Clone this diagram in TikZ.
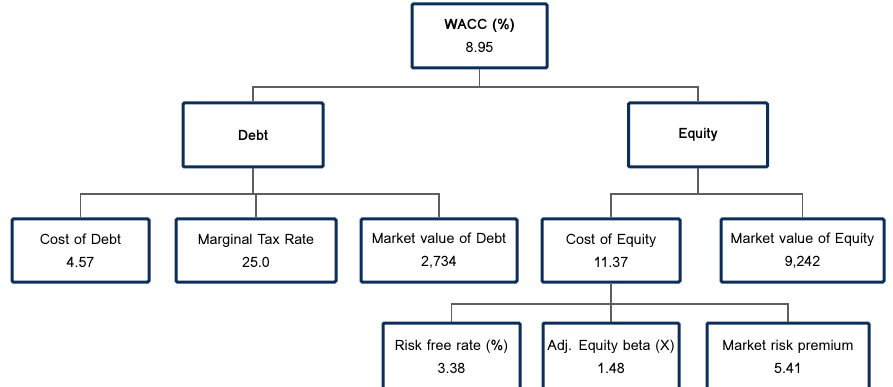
\documentclass[tikz,border=0pt]{standalone}
\usepackage{fontspec}
\setmainfont{Loma}
\usetikzlibrary{calc}
\definecolor{navy}{HTML}{0C2F5A}
\definecolor{conn}{HTML}{5E5E5E}
\begin{document}
\begin{tikzpicture}[x=1pt,y=-1pt,
  box/.style={draw=navy, line width=3pt, fill=white, rounded corners=1.2pt, inner sep=0pt, minimum height=63pt, align=center, font=\fontsize{14.3}{23}\selectfont},
  txt/.style={font=\fontsize{14.3}{23}\selectfont, align=center},
  link/.style={draw=conn, line width=1.4pt}]
\useasboundingbox (0,0) rectangle (893,387);
\clip (0,0) rectangle (893,387);
\node[box, minimum width=135pt, minimum height=64pt] (wacc) at (479.5,36) {\textbf{WACC (\%)}\\8.95};
\node[box, minimum width=140pt, minimum height=64pt] (debt) at (253,135) {\textbf{Debt}};
\node[box, minimum width=139pt, minimum height=64pt] (equity) at (698,135) {\textbf{Equity}};
\node[box, minimum width=137pt] (cod) at (80.5,250.5) {Cost of Debt\\4.57};
\node[box, minimum width=160pt] (mtr) at (256,250.5) {Marginal Tax Rate\\25.0};
\node[box, minimum width=156pt] (mvd) at (439,250.5) {Market value of Debt\\2,734};
\node[box, minimum width=138pt] (coe) at (611,250.5) {Cost of Equity\\11.37};
\node[box, minimum width=163pt] (mve) at (802.5,250.5) {Market value of Equity\\9,242};
\node[box, minimum width=137pt, minimum height=70pt] (rfr) at (451.5,358) {};
\node[box, minimum width=136pt, minimum height=70pt] (aeb) at (611,358) {};
\node[box, minimum width=162pt, minimum height=70pt] (mrp) at (788,358) {};
\node[txt] (rfrt) at (451.5,357) {Risk free rate (\%)\\3.38};
\node[txt] (aebt) at (611,357) {Adj. Equity beta (X)\\1.48};
\node[txt] (mrpt) at (788,357) {Market risk premium\\5.41};
\coordinate (j1) at (wacc.south |- 0,87);
\coordinate (j2) at (debt.south |- 0,194);
\coordinate (j3) at (equity.south |- 0,194);
\coordinate (j4) at (coe.south |- 0,304);
\draw[link] (wacc.south) -- (j1) -| (debt.north);
\draw[link] (j1) -| (equity.north);
\draw[link] (debt.south) -- (j2) -| (cod.north);
\draw[link] (j2) -- (mtr.north |- j2) -- (mtr.north);
\draw[link] (j2) -| (mvd.north);
\draw[link] (equity.south) -- (j3) -| (coe.north);
\draw[link] (j3) -| (mve.north);
\draw[link, line width=2.6pt] (coe.south) -- (j4);
\draw[link] (j4) -| (rfr.north);
\draw[link] (j4) -- (aeb.north);
\draw[link] (j4) -| (mrp.north);
\end{tikzpicture}
\end{document}
